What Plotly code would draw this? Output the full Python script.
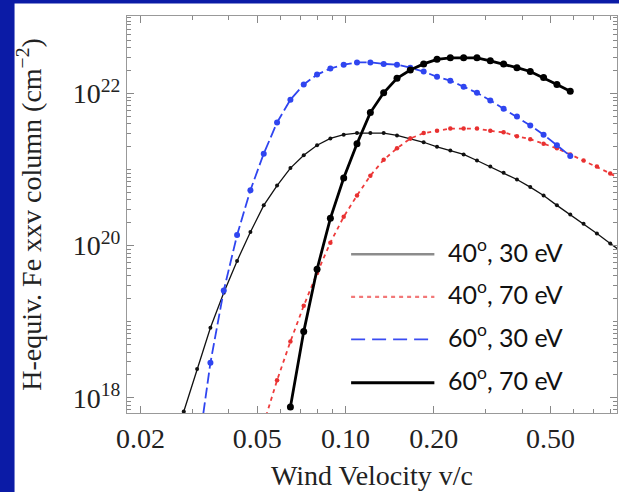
import plotly.graph_objects as go

# ---- data ----
velocity = [0.02811, 0.03121, 0.03465, 0.03847, 0.04272, 0.04743, 0.05266, 0.05847,
            0.06492, 0.07208, 0.08003, 0.08885, 0.09865, 0.1095, 0.1216, 0.1350,
            0.1499, 0.1664, 0.1848, 0.2052, 0.2278, 0.2529, 0.2808, 0.3118,
            0.3461, 0.3843, 0.4267, 0.4737, 0.5260, 0.5840, 0.6484, 0.7199,
            0.7993, 0.8874]

# log10 of H-equivalent Fe XXV column (cm^-2)
log_40_30 = [17.82, 18.38, 18.92, 19.38, 19.80, 20.18, 20.53, 20.79, 21.02, 21.19,
             21.32, 21.41, 21.46, 21.48, 21.48, 21.48, 21.45, 21.41, 21.36, 21.30,
             21.25, 21.20, 21.12, 21.04, 20.96, 20.87, 20.77, 20.66, 20.53, 20.41,
             20.29, 20.16, 20.03, 19.90]            # grid points 0..33
log_40_70 = [17.66, 18.23, 18.74, 19.21, 19.64, 20.04, 20.38, 20.66, 20.92, 21.13,
             21.28, 21.41, 21.48, 21.51, 21.54, 21.54, 21.54, 21.51, 21.49, 21.44,
             21.40, 21.34, 21.28, 21.20, 21.12, 21.04, 20.95, 20.85]  # grid points 6..33
log_60_30 = [17.21, 18.46, 19.41, 20.14, 20.73, 21.21, 21.62, 21.92, 22.12, 22.25,
             22.33, 22.38, 22.41, 22.41, 22.39, 22.38, 22.34, 22.29, 22.22, 22.17,
             22.09, 22.01, 21.91, 21.80, 21.70, 21.58, 21.46, 21.32, 21.18]  # grid points 1..29
log_60_70 = [17.88, 18.87, 19.69, 20.36, 20.89, 21.34, 21.75, 22.01, 22.20, 22.31,
             22.39, 22.45, 22.47, 22.47, 22.47, 22.43, 22.39, 22.34, 22.29, 22.21,
             22.12, 22.03]                           # grid points 8..29

x_tickvals = [0.02, 0.05, 0.1, 0.2, 0.5]
x_ticktext = ["0.02", "0.05", "0.10", "0.20", "0.50"]
y_tickvals = [1e18, 1e20, 1e22]
y_ticktext = ["10<sup>18</sup>", "10<sup>20</sup>", "10<sup>22</sup>"]
legend_labels = ["40<sup>o</sup>, 30 eV", "40<sup>o</sup>, 70 eV",
                 "60<sup>o</sup>, 30 eV", "60<sup>o</sup>, 70 eV"]

def pw(vals):
    return [10 ** v for v in vals]

fig = go.Figure()
fig.add_trace(go.Scatter(x=velocity, y=pw(log_40_30), mode="lines+markers",
                         line=dict(color="#111111", width=1.3),
                         marker=dict(color="#111111", size=4), showlegend=False))
fig.add_trace(go.Scatter(x=velocity[6:], y=pw(log_40_70), mode="lines+markers",
                         line=dict(color="#ee3b3b", width=1.8, dash="4px,4px"),
                         marker=dict(color="#e83030", size=4.5), showlegend=False))
fig.add_trace(go.Scatter(x=velocity[1:30], y=pw(log_60_30), mode="lines+markers",
                         line=dict(color="#2f45f0", width=1.8, dash="11px,4px"),
                         marker=dict(color="#2f45f0", size=6), showlegend=False))
fig.add_trace(go.Scatter(x=velocity[8:30], y=pw(log_60_70), mode="lines+markers",
                         line=dict(color="#000000", width=2.8),
                         marker=dict(color="#000000", size=7), showlegend=False))

# plot area geometry (pixels)
L, R, T, B = 126.5, 616.7, 15.5, 413.0
W, H = 619, 492
pwid, phei = R - L, B - T

def px(xp):
    return (xp - L) / pwid

def py(yp):
    return (B - yp) / phei

shapes = [dict(type="rect", xref="paper", yref="paper", layer="below",
               x0=px(14), x1=px(640), y0=py(510), y1=py(3),
               fillcolor="white", line=dict(width=0))]

leg_rows = [254, 296.7, 339.3, 382.7]
leg_styles = [dict(color="#8c8c8c", width=2.6, dash="solid"),
              dict(color="#f27878", width=2.2, dash="4px,4px"),
              dict(color="#3a4cf2", width=1.6, dash="14px,7px"),
              dict(color="#000000", width=2.8, dash="solid")]
annotations = []
for yrow, st, lab in zip(leg_rows, leg_styles, legend_labels):
    shapes.append(dict(type="line", xref="paper", yref="paper",
                       x0=px(350.7), x1=px(434), y0=py(yrow), y1=py(yrow), line=st))
    annotations.append(dict(xref="paper", yref="paper", x=px(446), y=py(yrow - 4),
                            xanchor="left", yanchor="middle", showarrow=False,
                            text=lab, font=dict(family="Lato", size=25, color="#111111")))

minor_x = [d * 10 ** e for e in (-2, -1) for d in range(1, 10)] + [1.0]
minor_x = [m for m in minor_x if all(abs(m - t) > 1e-9 for t in x_tickvals)]
minor_y = [d * 10.0 ** e for e in range(17, 24) for d in range(1, 10)]
minor_y = [m for m in minor_y if all(abs(m / t - 1) > 1e-6 for t in y_tickvals)]

serif = "Liberation Serif"
fig.update_layout(
    width=W, height=H,
    margin=dict(l=L, r=W - R, t=T, b=H - B),
    paper_bgcolor="#0b1ba6", plot_bgcolor="white",
    shapes=shapes, annotations=annotations,
    xaxis=dict(type="log", range=[-1.7447, -0.0742],
               tickmode="array", tickvals=x_tickvals, ticktext=x_ticktext,
               ticks="inside", ticklen=7, tickwidth=1, tickcolor="#888888",
               showline=True, linecolor="#999999", linewidth=1, mirror="allticks",
               showgrid=False, zeroline=False,
               minor=dict(tickmode="array", tickvals=minor_x, ticks="inside",
                          ticklen=4, tickcolor="#888888", showgrid=False),
               tickfont=dict(family=serif, size=28, color="#222222"),
               title=dict(text="Wind Velocity v/c", standoff=12,
                          font=dict(family=serif, size=28, color="#222222"))),
    yaxis=dict(type="log", range=[17.8, 23.02],
               tickmode="array", tickvals=y_tickvals, ticktext=y_ticktext,
               ticks="inside", ticklen=7, tickwidth=1, tickcolor="#888888",
               showline=True, linecolor="#999999", linewidth=1, mirror="allticks",
               showgrid=False, zeroline=False,
               minor=dict(tickmode="array", tickvals=minor_y, ticks="inside",
                          ticklen=4, tickcolor="#888888", showgrid=False),
               tickfont=dict(family=serif, size=28, color="#222222"),
               title=dict(text="H-equiv. Fe xxv column (cm<sup>\u22122</sup>)", standoff=23,
                          font=dict(family=serif, size=28, color="#222222"))),
)

fig.write_html("out.html")
